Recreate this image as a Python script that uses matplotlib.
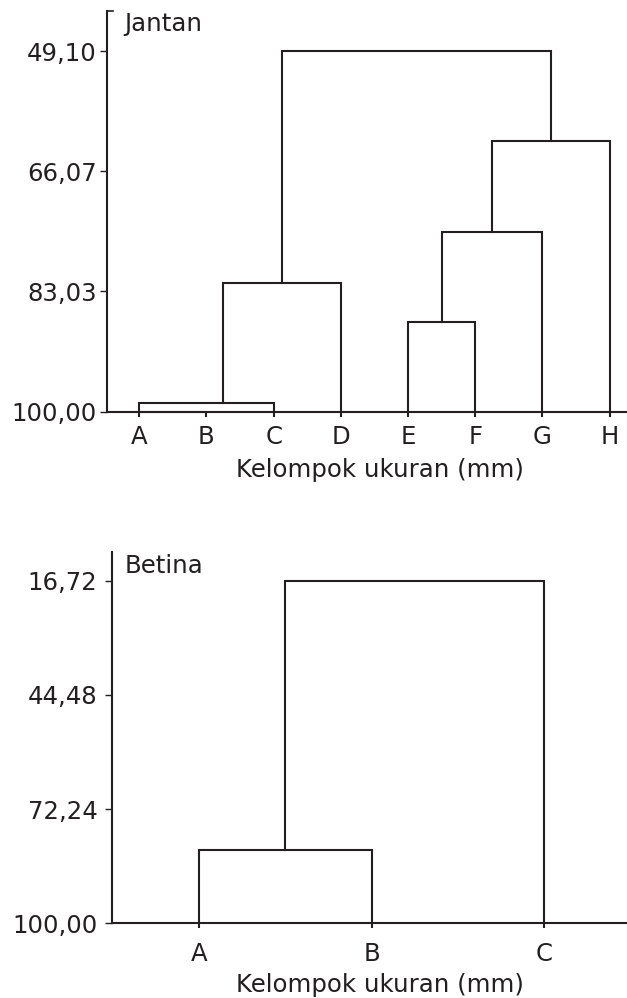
import matplotlib.pyplot as plt

plt.rcParams['font.family'] = ['DejaVu Sans']

INK = '#231f20'

# Jantan (male) size-group clustering
jantan_leaves = ['A', 'B', 'C', 'D', 'E', 'F', 'G', 'H']
jantan_ticks = [49.10, 66.07, 83.03, 100.00]
# merges: (left cluster, right cluster, similarity); new clusters numbered after the leaves
jantan_merges = [
    (0, 1, 100.00),
    (8, 2, 98.81),
    (9, 3, 81.80),
    (4, 5, 87.38),
    (11, 6, 74.64),
    (12, 7, 61.84),
    (10, 13, 49.10),
]

# Betina (female) size-group clustering
betina_leaves = ['A', 'B', 'C']
betina_ticks = [16.72, 44.48, 72.24, 100.00]
betina_merges = [
    (0, 1, 82.18),
    (3, 2, 16.72),
]


def draw_dendrogram(ax, leaves, merges):
    pos = {i: i + 1 for i in range(len(leaves))}
    anchor = dict(pos)
    height = {i: 100.0 for i in range(len(leaves))}
    first_leaf = {i: i + 1 for i in range(len(leaves))}
    node = len(leaves)
    for left, right, sim in merges:
        xl, xr = anchor[left], anchor[right]
        ax.plot([xl, xl, xr, xr], [height[left], sim, sim, height[right]],
                color=INK, lw=1.5, solid_joinstyle='miter', clip_on=False)
        pos[node] = (pos[left] + pos[right]) / 2
        height[node] = sim
        first_leaf[node] = first_leaf[left]
        # identical groups (similarity 100) hang their bracket off the first leaf
        anchor[node] = first_leaf[left] if sim >= 100 else pos[node]
        node += 1


def style_axis(ax, leaves, ticks, ypad, xpad):
    for side in ['top', 'right']:
        ax.spines[side].set_visible(False)
    for side in ['left', 'bottom']:
        ax.spines[side].set_linewidth(1.5)
        ax.spines[side].set_color(INK)
    ax.set_xticks(range(1, len(leaves) + 1))
    ax.set_xticklabels(leaves)
    ax.set_yticks(ticks)
    ax.set_yticklabels([f'{t:.2f}'.replace('.', ',') for t in ticks])
    ax.tick_params(axis='y', direction='out', length=4.7, width=1.0,
                   pad=ypad, labelsize=17.6, colors=INK)
    ax.tick_params(axis='x', direction='out', length=3.3, width=1.5,
                   pad=xpad, labelsize=17.6, colors=INK)


fig = plt.figure(figsize=(6.27, 9.98), dpi=100)

ax1 = fig.add_axes([0.1699, 0.5875, 0.8301, 0.4015])
draw_dendrogram(ax1, jantan_leaves, jantan_merges)
style_axis(ax1, jantan_leaves, jantan_ticks, 2.5, 6)
ax1.set_xlim(0.512, 8.26)
ax1.set_ylim(100, 43.45)
ax1.plot([0, 0.0115], [1, 1], transform=ax1.transAxes, color=INK,
         lw=1.2, clip_on=False)
ax1.text(0.0336, 0.950, 'Jantan', transform=ax1.transAxes, fontsize=17.6,
         color=INK, va='baseline', ha='left')
ax1.set_xlabel('Kelompok ukuran (mm)', fontsize=17.6, color=INK)
ax1.xaxis.set_label_coords(0.5255, -0.115)

ax2 = fig.add_axes([0.1781, 0.0749, 0.8219, 0.3723])
draw_dendrogram(ax2, betina_leaves, betina_merges)
style_axis(ax2, betina_leaves, betina_ticks, 5.5, 10.5)
ax2.set_xlim(0.493, 3.48)
ax2.set_ylim(100, 9.67)
ax2.text(0.0258, 0.9435, 'Betina', transform=ax2.transAxes, fontsize=17.6,
         color=INK, va='baseline', ha='left')
ax2.set_xlabel('Kelompok ukuran (mm)', fontsize=17.6, color=INK)
ax2.xaxis.set_label_coords(0.5207, -0.135)

fig.savefig('out.png', dpi=100)
